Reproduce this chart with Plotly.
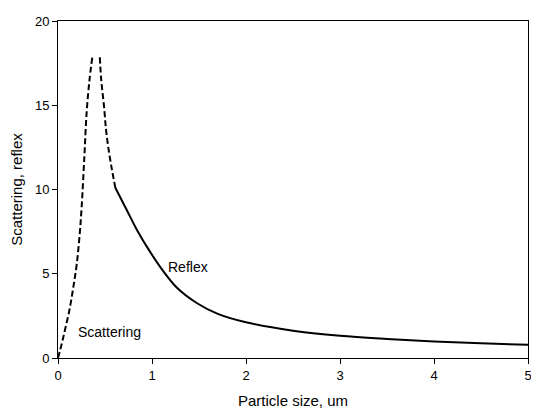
import plotly.graph_objects as go

# Scattering curve (dashed)
scatter_x = [0, 0.04, 0.074, 0.12, 0.163, 0.2, 0.23, 0.252, 0.28, 0.305, 0.335, 0.365]
scatter_y = [0, 0.85, 1.66, 2.8, 4.2, 5.6, 7.3, 9.0, 11.9, 14.6, 16.5, 17.85]

# Reflex curve, dashed part near the peak
reflex_dash_x = [0.445, 0.46, 0.49, 0.51, 0.535, 0.57, 0.61]
reflex_dash_y = [17.85, 16.5, 14.9, 13.6, 12.5, 11.3, 10.1]

# Reflex curve, solid part
reflex_x = [0.61, 0.73, 0.84, 0.98, 1.12, 1.26, 1.48, 1.7, 2.0,
            2.5, 3.0, 3.5, 4.0, 4.5, 5.0]
reflex_y = [10.1, 8.8, 7.6, 6.3, 5.15, 4.2, 3.25, 2.62, 2.12,
            1.62, 1.32, 1.13, 0.98, 0.87, 0.78]

x_ticks = [0, 1, 2, 3, 4, 5]
y_ticks = [0, 5, 10, 15, 20]

FONT = "Liberation Sans, Arial, sans-serif"

fig = go.Figure()

fig.add_trace(go.Scatter(
    x=scatter_x, y=scatter_y, mode="lines",
    line=dict(color="black", width=2, dash="6px,3px", shape="spline"),
    hoverinfo="none"
))
fig.add_trace(go.Scatter(
    x=reflex_dash_x, y=reflex_dash_y, mode="lines",
    line=dict(color="black", width=2, dash="6px,3px", shape="spline"),
    hoverinfo="none"
))
fig.add_trace(go.Scatter(
    x=reflex_x, y=reflex_y, mode="lines",
    line=dict(color="black", width=2, shape="spline"),
    hoverinfo="none"
))

# Curve labels
fig.add_annotation(x=0.543, y=1.56, xref="x", yref="y", text="Scattering",
                   showarrow=False, font=dict(size=14, color="black", family=FONT))
fig.add_annotation(x=1.383, y=5.38, xref="x", yref="y", text="Reflex",
                   showarrow=False, font=dict(size=14, color="black", family=FONT))

# page body has an 8px margin, so the figure is sized to fit inside it
fig.update_layout(
    width=523, height=401,
    margin=dict(l=50, r=3, t=13, b=51),
    showlegend=False,
    plot_bgcolor="white",
    paper_bgcolor="white",
    font=dict(family=FONT, color="black", size=13),
    xaxis=dict(
        range=[0, 5], tickvals=x_ticks, automargin=False,
        ticklabeloverflow="allow",
        showgrid=False, zeroline=False,
        showline=True, linecolor="black", linewidth=1, mirror=True,
        ticks="outside", ticklen=5, tickcolor="black",
        title=dict(text="Particle size, um", font=dict(size=15), standoff=17),
        tickfont=dict(size=13),
    ),
    yaxis=dict(
        range=[0, 20], tickvals=y_ticks, automargin=False,
        showgrid=False, zeroline=False,
        showline=True, linecolor="black", linewidth=1, mirror=True,
        ticks="outside", ticklen=5, tickcolor="black",
        title=dict(text="Scattering, reflex", font=dict(size=15), standoff=16),
        tickfont=dict(size=13),
    ),
)

fig.write_html("out.html")
